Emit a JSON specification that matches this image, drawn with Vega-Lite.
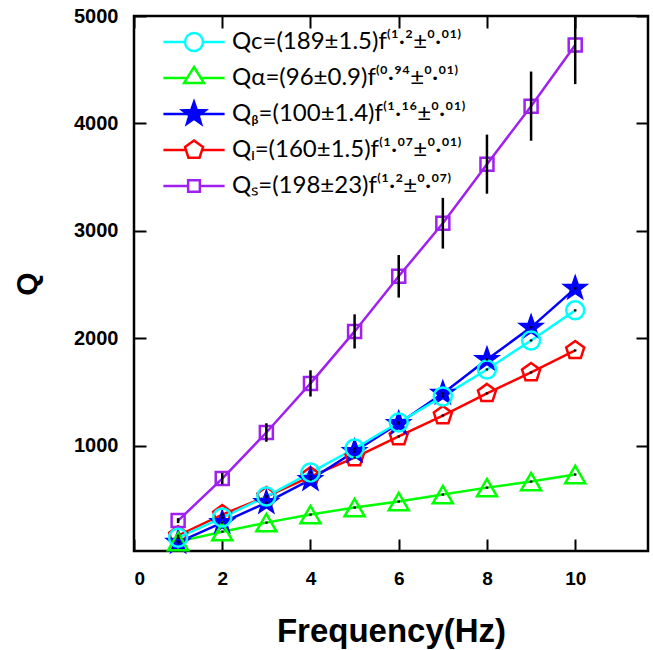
{
  "$schema": "https://vega.github.io/schema/vega-lite/v6.json",
  "width": 514,
  "height": 535,
  "autosize": "none",
  "padding": {"left": 134, "top": 16, "right": 5, "bottom": 99},
  "background": "white",
  "config": {
    "view": {"stroke": "black", "strokeWidth": 2.5},
    "axis": {
      "domain": false, "grid": false,
      "labelFont": "Liberation Sans", "labelFontWeight": "bold", "labelFontSize": 19, "labelColor": "black",
      "tickColor": "black", "tickWidth": 2,
      "titleFont": "Liberation Sans", "titleFontWeight": "bold", "titleColor": "black"
    }
  },
  "data": {"values": [
    {"f":1,"Q":303,"e":23,"s":"s"},{"f":2,"Q":694,"e":53,"s":"s"},{"f":3,"Q":1123,"e":86,"s":"s"},{"f":4,"Q":1580,"e":122,"s":"s"},{"f":5,"Q":2064,"e":159,"s":"s"},{"f":6,"Q":2577,"e":198,"s":"s"},{"f":7,"Q":3071,"e":236,"s":"s"},{"f":8,"Q":3621,"e":275,"s":"s"},{"f":9,"Q":4161,"e":322,"s":"s"},{"f":10,"Q":4730,"e":364,"s":"s"},
    {"f":1,"Q":163,"e":10,"s":"i"},{"f":2,"Q":359,"e":10,"s":"i"},{"f":3,"Q":527,"e":10,"s":"i"},{"f":4,"Q":713,"e":10,"s":"i"},{"f":5,"Q":890,"e":10,"s":"i"},{"f":6,"Q":1086,"e":10,"s":"i"},{"f":7,"Q":1281,"e":10,"s":"i"},{"f":8,"Q":1487,"e":10,"s":"i"},{"f":9,"Q":1682,"e":10,"s":"i"},{"f":10,"Q":1887,"e":10,"s":"i"},
    {"f":1,"Q":100,"e":10,"s":"b"},{"f":2,"Q":284,"e":10,"s":"b"},{"f":3,"Q":470,"e":10,"s":"b"},{"f":4,"Q":685,"e":10,"s":"b"},{"f":5,"Q":946,"e":10,"s":"b"},{"f":6,"Q":1207,"e":10,"s":"b"},{"f":7,"Q":1487,"e":10,"s":"b"},{"f":8,"Q":1803,"e":10,"s":"b"},{"f":9,"Q":2102,"e":10,"s":"b"},{"f":10,"Q":2465,"e":10,"s":"b"},
    {"f":1,"Q":107,"e":10,"s":"a"},{"f":2,"Q":200,"e":10,"s":"a"},{"f":3,"Q":284,"e":10,"s":"a"},{"f":4,"Q":359,"e":10,"s":"a"},{"f":5,"Q":424,"e":10,"s":"a"},{"f":6,"Q":480,"e":10,"s":"a"},{"f":7,"Q":545,"e":10,"s":"a"},{"f":8,"Q":610,"e":10,"s":"a"},{"f":9,"Q":666,"e":10,"s":"a"},{"f":10,"Q":732,"e":10,"s":"a"},
    {"f":1,"Q":144,"e":10,"s":"c"},{"f":2,"Q":331,"e":10,"s":"c"},{"f":3,"Q":527,"e":10,"s":"c"},{"f":4,"Q":750,"e":10,"s":"c"},{"f":5,"Q":974,"e":10,"s":"c"},{"f":6,"Q":1216,"e":10,"s":"c"},{"f":7,"Q":1459,"e":10,"s":"c"},{"f":8,"Q":1710,"e":10,"s":"c"},{"f":9,"Q":1980,"e":10,"s":"c"},{"f":10,"Q":2260,"e":10,"s":"c"}
  ]},
  "resolve": {"axis": {"x": "independent", "y": "independent"}},
  "layer": [
    {
      "mark": {"type": "line", "strokeWidth": 2.5},
      "encoding": {
        "x": {"field": "f", "type": "quantitative", "scale": {"domain": [0, 11.65], "nice": false, "zero": false},
              "axis": {"values": [0,2,4,6,8,10], "tickSize": -12, "labelPadding": 30, "title": "Frequency(Hz)", "titleFontSize": 33, "titlePadding": 27}},
        "y": {"field": "Q", "type": "quantitative", "scale": {"domain": [20, 5000], "nice": false, "zero": false},
              "axis": {"values": [1000,2000,3000,4000,5000], "format": "d", "tickSize": -12, "labelPadding": 28, "labelFontSize": 20, "title": "Q", "titleFontSize": 30, "titlePadding": 31}},
        "color": {"field": "s", "type": "nominal",
          "scale": {"domain": ["c","a","b","i","s"], "range": ["#00FFFF","#00FF00","#0000FF","#FF0000","#A020F0"]},
          "legend": {
            "title": null, "orient": "none", "legendX": 48, "legendY": 14, "padding": 0, "gridAlign": "all",
            "labelFont": "Lato", "labelFontSize": 24, "labelColor": "black", "labelLimit": 400, "labelOffset": 26,
            "rowPadding": 4, "symbolSize": 324, "symbolStrokeWidth": 2.5,
            "labelExpr": "datum.value == 'c' ? 'Qc=(189±1.5)f⁽¹·²±⁰·⁰¹⁾' : datum.value == 'a' ? 'Qα=(96±0.9)f⁽⁰·⁹⁴±⁰·⁰¹⁾' : datum.value == 'b' ? 'Qᵦ=(100±1.4)f⁽¹·¹⁶±⁰·⁰¹⁾' : datum.value == 'i' ? 'Qᵢ=(160±1.5)f⁽¹·⁰⁷±⁰·⁰¹⁾' : 'Qₛ=(198±23)f⁽¹·²±⁰·⁰⁷⁾'",
            "encode": {"symbols": {"update": {
              "shape": {"signal": "datum.value == 'c' ? 'M-3.4,0L-1,0M1,0L3.4,0M-1,0A1,1 0 1,1 1,0A1,1 0 1,1 -1,0Z' : datum.value == 'a' ? 'M-3.4,0L-0.76,0M0.76,0L3.4,0M0,-1.22L1.1,0.55L-1.1,0.55Z' : datum.value == 'b' ? 'M-3.4,0L3.4,0M0,-1.33L0.313,-0.431L1.265,-0.411L0.506,0.164L0.782,1.076L0,0.532L-0.782,1.076L-0.506,0.164L-1.265,-0.411L-0.313,-0.431Z' : datum.value == 'i' ? 'M-3.4,0L-0.9,0M0.9,0L3.4,0M0,-1.05L0.999,-0.324L0.617,0.849L-0.617,0.849L-0.999,-0.324Z' : 'M-3.4,0L-0.65,0M0.65,0L3.4,0M-0.65,-0.65L0.65,-0.65L0.65,0.65L-0.65,0.65Z'"},
              "fill": {"signal": "datum.value == 'b' ? '#0000FF' : 'white'"},
              "stroke": {"scale": "color", "field": "value"},
              "size": {"value": 324},
              "opacity": {"value": 1},
              "strokeWidth": {"value": 2.5}
            }}}
          }}
      }
    },
    {
      "transform": [{"filter": "datum.s == 'i'"}],
      "mark": {"type": "point", "shape": "M0,-1.9L1.807,-0.587L1.117,1.537L-1.117,1.537L-1.807,-0.587Z", "size": 100, "filled": false, "strokeWidth": 2.5, "opacity": 1},
      "encoding": {
        "x": {"field": "f", "type": "quantitative", "axis": null},
        "y": {"field": "Q", "type": "quantitative", "axis": null},
        "color": {"field": "s", "type": "nominal"}
      }
    },
    {
      "transform": [{"filter": "datum.s == 'b'"}],
      "mark": {"type": "point", "shape": "M0,-2.5L0.588,-0.809L2.378,-0.773L0.951,0.309L1.47,2.023L0,1L-1.47,2.023L-0.951,0.309L-2.378,-0.773L-0.588,-0.809Z", "size": 100, "filled": false, "fill": "#0000FF", "fillOpacity": 1, "strokeWidth": 1.5, "opacity": 1},
      "encoding": {
        "x": {"field": "f", "type": "quantitative", "axis": null},
        "y": {"field": "Q", "type": "quantitative", "axis": null},
        "color": {"field": "s", "type": "nominal"}
      }
    },
    {
      "transform": [{"filter": "datum.s == 'a'"}],
      "mark": {"type": "point", "shape": "M0,-1.732L2,1.732L-2,1.732Z", "size": 100, "filled": false, "strokeWidth": 2.5, "opacity": 1},
      "encoding": {
        "x": {"field": "f", "type": "quantitative", "axis": null},
        "y": {"field": "Q", "type": "quantitative", "axis": null},
        "color": {"field": "s", "type": "nominal"}
      }
    },
    {
      "transform": [{"filter": "datum.s == 's'"}],
      "mark": {"type": "point", "shape": "M-1.3,-1.3L1.3,-1.3L1.3,1.3L-1.3,1.3Z", "size": 100, "filled": false, "strokeWidth": 2.5, "opacity": 1},
      "encoding": {
        "x": {"field": "f", "type": "quantitative", "axis": null},
        "y": {"field": "Q", "type": "quantitative", "axis": null},
        "color": {"field": "s", "type": "nominal"}
      }
    },
    {
      "transform": [{"filter": "datum.s == 'c'"}],
      "mark": {"type": "point", "shape": "M-1.8,0A1.8,1.8 0 1,1 1.8,0A1.8,1.8 0 1,1 -1.8,0Z", "size": 100, "filled": false, "strokeWidth": 2.5, "opacity": 1},
      "encoding": {
        "x": {"field": "f", "type": "quantitative", "axis": null},
        "y": {"field": "Q", "type": "quantitative", "axis": null},
        "color": {"field": "s", "type": "nominal"}
      }
    },
    {
      "mark": {"type": "errorbar", "color": "black", "thickness": 2.5, "clip": true},
      "encoding": {
        "x": {"field": "f", "type": "quantitative",
              "axis": {"orient": "top", "values": [0,2,4,6,8,10], "tickSize": -12, "labels": false, "title": null}},
        "y": {"field": "Q", "type": "quantitative",
              "axis": {"orient": "right", "values": [1000,2000,3000,4000,5000], "tickSize": -12, "labels": false, "title": null}},
        "yError": {"field": "e"}
      }
    }
  ]
}
